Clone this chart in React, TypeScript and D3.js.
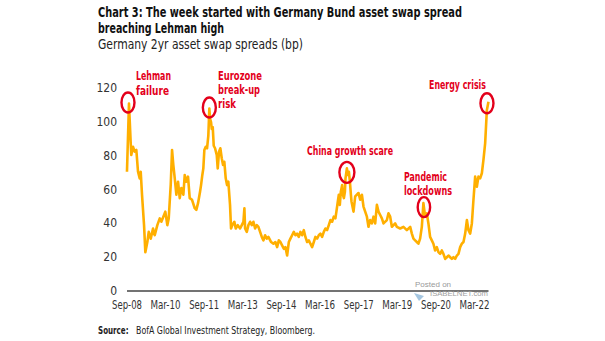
import React from "react";
import * as d3 from "d3";

// ---------- DATA ----------
const dates: number[] = [
  2008.667, 2008.745, 2008.811, 2008.834, 2008.900, 2008.966, 2009.028, 2009.094, 2009.160, 2009.199,
  2009.250, 2009.328, 2009.378, 2009.456, 2009.510, 2009.588, 2009.677, 2009.743, 2009.844, 2009.938,
  2010.000, 2010.105, 2010.155, 2010.233, 2010.287, 2010.365, 2010.416, 2010.466, 2010.521, 2010.583,
  2010.649, 2010.715, 2010.777, 2010.855, 2010.909, 2010.971, 2011.037, 2011.103, 2011.193, 2011.298,
  2011.360, 2011.426, 2011.504, 2011.543, 2011.593, 2011.632, 2011.671, 2011.725, 2011.776, 2011.826,
  2011.865, 2011.892, 2011.931, 2011.958, 2011.997, 2012.036, 2012.087, 2012.153, 2012.191, 2012.242,
  2012.293, 2012.347, 2012.398, 2012.448, 2012.502, 2012.553, 2012.603, 2012.669, 2012.708, 2012.759,
  2012.837, 2012.891, 2012.969, 2013.058, 2013.124, 2013.187, 2013.225, 2013.252, 2013.318, 2013.381,
  2013.447, 2013.513, 2013.575, 2013.641, 2013.707, 2013.769, 2013.835, 2013.901, 2013.964, 2014.030,
  2014.096, 2014.158, 2014.263, 2014.352, 2014.430, 2014.496, 2014.562, 2014.624, 2014.690, 2014.756,
  2014.819, 2014.885, 2014.951, 2015.013, 2015.079, 2015.145, 2015.207, 2015.273, 2015.339, 2015.401,
  2015.467, 2015.534, 2015.596, 2015.662, 2015.728, 2015.790, 2015.856, 2015.922, 2015.984, 2016.050,
  2016.116, 2016.179, 2016.245, 2016.311, 2016.373, 2016.439, 2016.505, 2016.567, 2016.633, 2016.699,
  2016.761, 2016.800, 2016.855, 2016.894, 2016.933, 2016.972, 2017.022, 2017.050, 2017.089, 2017.128,
  2017.151, 2017.205, 2017.244, 2017.283, 2017.322, 2017.361, 2017.384, 2017.462, 2017.528, 2017.656,
  2017.722, 2017.788, 2017.850, 2017.982, 2018.044, 2018.110, 2018.176, 2018.238, 2018.305, 2018.371,
  2018.433, 2018.499, 2018.565, 2018.627, 2018.759, 2018.821, 2018.887, 2018.953, 2019.081, 2019.147,
  2019.275, 2019.403, 2019.535, 2019.665, 2019.729, 2019.791, 2019.857, 2019.923, 2019.985, 2020.051,
  2020.117, 2020.179, 2020.245, 2020.311, 2020.373, 2020.439, 2020.505, 2020.567, 2020.633, 2020.699,
  2020.762, 2020.828, 2020.894, 2020.956, 2021.022, 2021.088, 2021.150, 2021.216, 2021.282, 2021.344,
  2021.410, 2021.476, 2021.538, 2021.604, 2021.670, 2021.733, 2021.799, 2021.865, 2021.927, 2021.993,
  2022.059, 2022.121, 2022.187, 2022.253, 2022.315, 2022.381, 2022.447, 2022.509, 2022.575, 2022.641,
  2022.704,
];

const spreads: number[] = [
  70.6, 111, 88, 80.5, 85.4, 82.5, 83.5, 70.6, 66.7, 70.6,
  56.8, 39, 23, 29, 35, 31, 37, 33, 39, 43,
  41, 45, 47, 39, 43, 63, 83.5, 74.6, 66.7, 57,
  64.7, 55, 61, 57, 68.7, 64.7, 67.7, 55, 54, 49,
  48, 52, 58.8, 62.7, 68.7, 72.6, 83.5, 85.4, 84.5, 92,
  108, 102, 100, 96, 97, 86, 84.5, 80.5, 72.6, 82.5,
  84.5, 78.6, 74.6, 76.5, 66.7, 62.7, 64.7, 51, 37, 39,
  41, 37, 39, 37, 39, 41, 49, 37, 35, 39,
  41, 39, 41, 37, 39, 38, 35, 32, 30, 33,
  31, 32, 29, 28, 29, 26, 30, 29, 27, 25,
  26, 21, 29, 31, 33, 35, 33, 34, 32, 35,
  33, 36, 32, 29, 30, 28, 26, 29, 32, 31,
  33, 34, 32, 35, 37, 36, 39, 42, 41, 44,
  43, 47, 53, 57, 51, 58.8, 62.7, 57, 55, 58.8,
  66.7, 72.6, 68.7, 70.6, 64.7, 57, 53, 47, 56, 58,
  54, 57, 50, 44, 38, 42, 40, 44, 40, 51,
  47, 45, 43, 40, 42, 46, 44, 38, 40, 38,
  37, 38, 36, 38, 34, 31, 30, 29, 28, 31,
  38, 52, 44, 46, 40, 32, 30, 28, 24, 26,
  23, 22, 24, 22, 19, 20, 21, 20, 19, 20,
  19, 21, 22, 26, 28, 29, 34, 42, 36, 34,
  40, 54, 67.7, 61.7, 67.7, 66.7, 69.7, 77.6, 87.4, 107,
  112,
];

const yTicks: number[] = [0, 20, 40, 60, 80, 100, 120];
const xTickLabels: string[] = [
  "Sep-08", "Mar-10", "Sep-11", "Mar-13", "Sep-14",
  "Mar-16", "Sep-17", "Mar-19", "Sep-20", "Mar-22",
];

const annotations = [
  { lines: ["Lehman", "failure"], peak: 1 },
  { lines: ["Eurozone", "break-up", "risk"], peak: 50 },
  { lines: ["China growth scare"], peak: 141 },
  { lines: ["Pandemic", "lockdowns"], peak: 181 },
  { lines: ["Energy crisis"], peak: 220 },
];

// ---------- LAYOUT ----------
const W = 605;
const H = 341;
const FONT = "'Liberation Sans Narrow', 'DejaVu Sans Condensed', 'Open Sans', sans-serif";
const ORANGE = "#FFAF00";
const RED = "#E3001B";

const labelLayout = [
  { x: 136, y: 80, lh: 14.5, widths: [35, 33] },
  { x: 218, y: 80, lh: 14, widths: [44, 42, 18] },
  { x: 307, y: 155, lh: 14, widths: [86] },
  { x: 404, y: 181, lh: 14, widths: [43, 48] },
  { x: 429, y: 89, lh: 14, widths: [57] },
];
const circleLayout = [
  { dx: -1, dy: -1, rx: 6.5, ry: 10 },
  { dx: 0, dy: -1, rx: 6.5, ry: 10 },
  { dx: 0, dy: 4, rx: 7.5, ry: 10.5 },
  { dx: 0.5, dy: 4, rx: 6.2, ry: 10 },
  { dx: -1.5, dy: 1.5, rx: 6.5, ry: 10 },
];

function decToDate(d: number): Date {
  const y = Math.floor(d);
  const start = new Date(y, 0, 1).getTime();
  return new Date(start + (d - y) * 365.25 * 86400000);
}

const parseTick = d3.timeParse("%b-%y");

export default function App() {
  const x = d3
    .scaleTime()
    .domain([new Date(2008, 8, 1), new Date(2022, 2, 1)])
    .range([127, 474.5]);
  const y = d3.scaleLinear().domain([0, 120]).range([291, 88.3]);

  const series = dates.map((d, i) => ({ date: decToDate(d), value: spreads[i] }));
  const line = d3
    .line<{ date: Date; value: number }>()
    .x((d) => x(d.date))
    .y((d) => y(d.value))
    .curve(d3.curveLinear);

  const xTicks = xTickLabels.map((l) => ({ label: l, date: parseTick(l) as Date }));

  return (
    <svg
      width={W}
      height={H}
      viewBox={`0 0 ${W} ${H}`}
      style={{ position: "absolute", left: 0, top: 0, background: "#fff" }}
      fontFamily={FONT}
    >
      <rect x={0} y={0} width={W} height={H} fill="#fff" />
      {/* Title */}
      <text x={98} y={16.5} fontSize={14.5} fontWeight="bold" fill="#111" textLength={364} lengthAdjust="spacingAndGlyphs">
        Chart 3: The week started with Germany Bund asset swap spread
      </text>
      <text x={98} y={32.5} fontSize={14.5} fontWeight="bold" fill="#111" textLength={126} lengthAdjust="spacingAndGlyphs">
        breaching Lehman high
      </text>
      <text x={98} y={49} fontSize={14.5} fill="#222" textLength={205} lengthAdjust="spacingAndGlyphs">
        Germany 2yr asset swap spreads (bp)
      </text>

      {/* Y tick labels */}
      {yTicks.map((t) => (
        <text key={t} x={117} y={y(t) + 4} fontSize={12} textAnchor="end" fill="#333">
          {t}
        </text>
      ))}

      {/* X axis */}
      <line x1={127} x2={488.5} y1={y(0)} y2={y(0)} stroke="#444" strokeWidth={1.3} />
      {xTicks.map((t) => (
        <text
          key={t.label}
          x={x(t.date)}
          y={309}
          fontSize={11.5}
          textAnchor="middle"
          fill="#333"
          textLength={30}
          lengthAdjust="spacingAndGlyphs"
        >
          {t.label}
        </text>
      ))}

      {/* Line */}
      <path d={line(series) || ""} fill="none" stroke={ORANGE} strokeWidth={2.6} strokeLinejoin="round" />

      {/* Annotations */}
      {annotations.map((a, i) => {
        const p = series[a.peak];
        const c = circleLayout[i];
        const L = labelLayout[i];
        return (
          <g key={i}>
            <ellipse
              cx={x(p.date) + c.dx}
              cy={y(p.value) + c.dy}
              rx={c.rx}
              ry={c.ry}
              fill="none"
              stroke={RED}
              strokeWidth={2.4}
            />
            {a.lines.map((ln, j) => (
              <text
                key={j}
                x={L.x}
                y={L.y + j * L.lh}
                fontSize={12.5}
                fontWeight="bold"
                fill={RED}
                textLength={L.widths[j]}
                lengthAdjust="spacingAndGlyphs"
              >
                {ln}
              </text>
            ))}
          </g>
        );
      })}

      {/* Watermark */}
      <text x={415} y={286.5} fontSize={8} fill="#999" fontFamily="'Liberation Sans', Arial, sans-serif">
        Posted on
      </text>
      <path d="M414,293 L424,296 L419,301 Z" fill="#8fb8d8" opacity={0.8} />
      <text x={430} y={296} fontSize={7.5} fill="#a0a0a0" fontFamily="'Liberation Sans', Arial, sans-serif" textLength={58} lengthAdjust="spacingAndGlyphs">
        ISABELNET.com
      </text>

      {/* Source */}
      <g transform="translate(98,334) scale(0.72,1)">
        <text x={0} y={0} fontSize={11} fontWeight="bold" fill="#222">
          Source:
        </text>
      </g>
      <text x={136} y={334} fontSize={11} fill="#222" textLength={179} lengthAdjust="spacingAndGlyphs">
        BofA Global Investment Strategy, Bloomberg.
      </text>
    </svg>
  );
}
